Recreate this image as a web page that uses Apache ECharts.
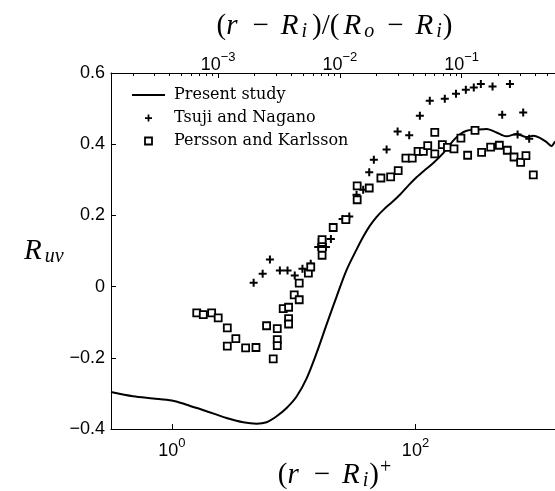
<!DOCTYPE html>
<html><head><meta charset="utf-8">
<script src="https://cdn.jsdelivr.net/npm/echarts@6/dist/echarts.min.js"></script>
<style>html,body{margin:0;padding:0;background:#fff}#c{width:555px;height:491px}</style>
</head><body><div id="c"></div>
<script>
// ---- data ----
const presentStudy = [
  [0.316,-0.296],[0.48,-0.308],[0.7,-0.314],[1.0,-0.32],[1.3,-0.331],[1.7,-0.344],[2.3,-0.359],
  [2.81,-0.369],[3.85,-0.381],[4.96,-0.385],[5.99,-0.381],[7.2,-0.365],[8.75,-0.341],[10.6,-0.308],
  [12.8,-0.257],[15.4,-0.187],[18.6,-0.107],[22.5,-0.028],[27.2,0.047],[32.8,0.104],[37.2,0.14],
  [42,0.17],[48,0.196],[55,0.217],[64,0.237],[74.5,0.258],[88,0.285],[102,0.307],[120,0.328],
  [140,0.347],[169,0.375],[204,0.41],[232,0.428],
  [263,0.438],[318,0.441],[384,0.443],[463,0.433],[510,0.426],[560,0.422],[676,0.429],[817,0.42],
  [927,0.424],[1050,0.418],[1191,0.406],[1309,0.395],[1393,0.406],[1479,0.41]
];
const tsujiNagano = [
  [4.69,0.011],[5.56,0.036],[6.38,0.076],[7.7,0.045],[8.9,0.045],[10.2,0.031],[11.8,0.05],
  [13.8,0.064],[15.9,0.111],[18.4,0.111],[20.2,0.134],[25.2,0.19],[28.6,0.197],[32.8,0.258],
  [37.2,0.272],[41.7,0.321],[45.5,0.356],[57.9,0.385],[71.3,0.436],[88.8,0.425],[108.6,0.48],
  [131,0.522],[174,0.528],[215,0.542],[259,0.553],[301,0.559],[344,0.569],[429,0.562],[596,0.569],
  [515,0.483],[766,0.489],[689,0.427],[858,0.415]
];
const perssonKarlsson = [
  [1.6,-0.074],[1.81,-0.079],[2.12,-0.074],[2.4,-0.088],[2.85,-0.116],[2.85,-0.167],[3.35,-0.146],
  [4.03,-0.172],[4.9,-0.171],[5.99,-0.11],[6.79,-0.203],[7.33,-0.118],[7.33,-0.149],[7.33,-0.166],
  [8.2,-0.062],[9.08,-0.058],[9.08,-0.09],[9.08,-0.105],[10.1,-0.023],[11.1,0.01],[11.1,-0.037],
  [13.2,0.038],[13.8,0.055],[17.1,0.088],[17.1,0.124],[17.1,0.132],[21.1,0.166],[26.8,0.188],
  [33.2,0.283],[33.2,0.244],[41.7,0.277],[52,0.305],[62.5,0.308],[72.1,0.326],[83.4,0.361],
  [94,0.361],[105,0.38],[116,0.38],[126,0.396],[144,0.433],[144,0.373],[166,0.399],[183,0.391],
  [207,0.387],[236,0.417],[268,0.369],[308,0.439],[349,0.377],[414,0.392],[488,0.397],[567,0.383],
  [644,0.364],[730,0.349],[807,0.368],[927,0.314]
];
const seriesNames = ['Present study', 'Tsuji and Nagano', 'Persson and Karlsson'];
const yTickMin = -0.4, yTickMax = 0.6, yTickStep = 0.2;
const bottomTicks = [1, 100];
const topMajorTicks = [0.001, 0.01, 0.1];
const topMinorTicks = [
  0.0002,0.0003,0.0004,0.0005,0.0006,0.0007,0.0008,0.0009,
  0.002,0.003,0.004,0.005,0.006,0.007,0.008,0.009,
  0.02,0.03,0.04,0.05,0.06,0.07,0.08,0.09,
  0.2,0.3,0.4,0.5,0.6
];
const xMin = 0.31623, xMax = 1479;
const outerScale = 2393; // (r-Ri)^+ per unit of (r-Ri)/(Ro-Ri)

// ---- styling helpers ----
const supRich = {
  b: {fontFamily: 'Liberation Sans', fontSize: 18, color: '#000'},
  s: {fontFamily: 'Liberation Sans', fontSize: 13, color: '#000', padding: [0, 0, 15, 0]}
};
function powLabel(v) {
  const e = Math.round(Math.log10(v));
  return '{b|10}{s|' + String(e).replace('-', '\u2212') + '}';
}
const F = 'Liberation Serif';
const mathRich = {
  n: {fontFamily: F, fontSize: 29, color: '#000'},
  v: {fontFamily: F, fontStyle: 'italic', fontSize: 29, color: '#000', padding: [0, 3, 0, 0]},
  m: {fontFamily: F, fontSize: 29, color: '#000', padding: [0, 12]},
  sl: {fontFamily: F, fontSize: 29, color: '#000', padding: [0, 4]},
  sb: {fontFamily: F, fontStyle: 'italic', fontSize: 20, color: '#000', padding: [11, 1, 0, 0]},
  sp: {fontFamily: F, fontSize: 20, color: '#000', padding: [0, 0, 15, 1]}
};
const plusPath = 'path://M3,0H5V3H8V5H5V8H3V5H0V3H3Z';
const squarePath = 'path://M0,0H10V10H0Z';
const lineIconPath = 'path://M0,0H33V2H0Z';
const axisBlack = {lineStyle: {color: '#000', width: 1}};

const chart = echarts.init(document.getElementById('c'), null, {renderer: 'canvas'});
chart.setOption({
  animation: false,
  backgroundColor: '#fff',
  grid: {left: 111, top: 73, right: -3, bottom: 62, containLabel: false, outerBoundsMode: 'none'},
  legend: {
    orient: 'vertical', left: 127, top: 82, itemWidth: 33, itemHeight: 7, itemGap: 7,
    textStyle: {fontFamily: 'DejaVu Serif', fontSize: 16, color: '#000', padding: [0, 0, 0, 4]},
    data: [
      {name: seriesNames[0], icon: lineIconPath, itemStyle: {color: '#000', borderWidth: 0}},
      {name: seriesNames[1], icon: plusPath, itemStyle: {color: '#000', opacity: 1, borderWidth: 0}},
      {name: seriesNames[2], icon: squarePath, itemStyle: {color: '#fff', borderColor: '#000', borderWidth: 1.8}}
    ]
  },
  xAxis: [
    {
      type: 'log', min: xMin, max: xMax, position: 'bottom',
      axisLine: {show: true, onZero: false, ...axisBlack},
      axisTick: {show: true, inside: true, length: 5, customValues: bottomTicks, ...axisBlack},
      axisLabel: {customValues: bottomTicks, formatter: powLabel, rich: supRich, margin: 8},
      splitLine: {show: false}, minorTick: {show: false},
      name: '{n|(}{v|r}{m|\u2212}{v|R}{sb|i}{n|)}{sp|+}',
      nameLocation: 'middle', nameGap: 29, nameMoveOverlap: false, nameTextStyle: {rich: mathRich}
    },
    {
      type: 'log', min: xMin / outerScale, max: xMax / outerScale, position: 'top',
      axisLine: {show: true, onZero: false, ...axisBlack},
      axisTick: {show: true, inside: true, length: 5, customValues: topMajorTicks, ...axisBlack},
      axisLabel: {customValues: topMajorTicks, formatter: powLabel, rich: supRich, margin: -6},
      splitLine: {show: false}, minorTick: {show: false},
      name: '{n|(}{v|r}{m|\u2212}{v|R}{sb|i}{sl|)/(}{v|R}{sb|o}{m|\u2212}{v|R}{sb|i}{n|)}',
      nameLocation: 'middle', nameGap: 31, nameTextStyle: {rich: mathRich}
    },
    {
      type: 'log', min: xMin / outerScale, max: xMax / outerScale, position: 'top',
      axisLine: {show: false, onZero: false},
      axisTick: {show: true, inside: true, length: 3, customValues: topMinorTicks, ...axisBlack},
      axisLabel: {show: false},
      splitLine: {show: false}, minorTick: {show: false}
    }
  ],
  yAxis: {
    type: 'value', min: yTickMin, max: yTickMax, interval: yTickStep,
    axisLine: {show: true, onZero: false, ...axisBlack},
    axisTick: {show: true, inside: true, length: 5, ...axisBlack},
    splitLine: {show: false},
    axisLabel: {
      margin: 6, fontFamily: 'Liberation Sans', fontSize: 18, color: '#000',
      formatter: v => { const r = Math.round(v * 10) / 10; return r === 0 ? '0' : String(r).replace('-', '\u2212'); }
    },
    name: '{v|R}{sb|uv}', nameLocation: 'middle', nameRotate: 0, nameGap: 45,
    nameTextStyle: {rich: mathRich}
  },
  series: [
    {
      type: 'line', name: seriesNames[0], data: presentStudy, xAxisIndex: 0, yAxisIndex: 0,
      smooth: 0.3, symbol: 'none', showSymbol: false, lineStyle: {color: '#000', width: 2}, itemStyle: {color: '#000'}, z: 2
    },
    {
      type: 'scatter', name: seriesNames[1], data: tsujiNagano, xAxisIndex: 0, yAxisIndex: 0,
      symbol: plusPath, symbolSize: 8, itemStyle: {color: '#000', opacity: 1}, z: 3
    },
    {
      type: 'scatter', name: seriesNames[2], data: perssonKarlsson, xAxisIndex: 0, yAxisIndex: 0,
      symbol: 'rect', symbolSize: 7, itemStyle: {color: '#fff', borderColor: '#000', borderWidth: 1.8, opacity: 1}, z: 3
    }
  ]
});
</script></body></html>
